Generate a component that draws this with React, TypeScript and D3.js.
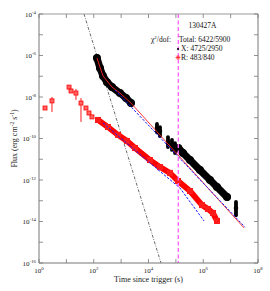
import React from "react";
import * as d3 from "d3";

// ---------- data ----------
// Early optical points (R band) with error bars
const optEarlyT = [1.66, 2.98, 12.5, 14.8, 22.4, 34.2, 52, 67, 86];
const optEarlyF = [2.95e-9, 6.5e-9, 3.0e-8, 1.95e-8, 1.55e-8, 5.1e-9, 2.95e-9, 1.7e-9, 1.1e-9];
const optEarlyLo = [2.95e-9, 1.9e-9, 3.0e-8, 1.95e-8, 7.2e-9, 6.3e-10, 2.95e-9, 1.7e-9, 1.1e-9];
const optEarlyHi = [2.95e-9, 1.0e-8, 3.0e-8, 1.95e-8, 2.45e-8, 8.9e-9, 2.95e-9, 1.7e-9, 1.1e-9];

// Dense optical light curve (band)
const optT = [143, 331, 769, 1640, 3210, 1.13e4, 2.63e4, 6.1e4, 1.2e5, 3.28e5, 9.0e5, 1.49e6, 2.27e6, 3.18e6];
const optF = [7.8e-10, 3.58e-10, 1.49e-10, 7.6e-11, 3.5e-11, 9.2e-12, 4.2e-12, 2.19e-12, 8.95e-13, 2.95e-13, 6.2e-14, 4.0e-14, 2.57e-14, 1.06e-14];

// Dense X-ray light curve, two continuous segments
const xr1T = [131, 169, 218, 305, 464, 910, 1510, 2290];
const xr1F = [7.6e-7, 2.5e-7, 1.03e-7, 5.2e-8, 3.0e-8, 1.55e-8, 8.9e-9, 5.1e-9];
const xr2T = [1.23e5, 1.82e5, 3.28e5, 7.6e5, 1.77e6, 3.18e6, 7.4e6];
const xr2F = [3.5e-11, 2.0e-11, 9.2e-12, 3.0e-12, 1.0e-12, 4.6e-13, 1.5e-13];

// Isolated X-ray points with error bars
const xrPtT = [2.04e4, 2.63e4, 5.15e4, 7.2e4, 9.3e4, 1.57e7];
const xrPtF = [3.2e-10, 2.3e-10, 6.7e-11, 4.9e-11, 3.5e-11, 4.5e-14];
const xrPtLo = [2.0e-10, 1.3e-10, 3.9e-11, 2.8e-11, 2.0e-11, 2.0e-14];
const xrPtHi = [5.0e-10, 3.5e-10, 1.17e-10, 8.5e-11, 6.0e-11, 8.7e-14];

// Models
const xrModelT = [131, 218, 464, 910, 2290, 3.1e7];
const xrModelF = [7.6e-7, 1.03e-7, 3.0e-8, 1.55e-8, 5.1e-9, 4.9e-15];
const xrPLT = [597, 3.35e7];
const xrPLF = [2.2e-8, 5.3e-15];
const optPLT = [218, 1.135e4, 1.41e5, 1.07e6];
const optPLF = [5.6e-10, 6.6e-12, 4.1e-13, 1.06e-14];
const steepT = [44, 2.86e4];
const steepF = [1e-4, 1e-16];
const breakTime = 1.23e5;

const xTickExp = [0, 1, 2, 3, 4, 5, 6, 7, 8];
const xLabelExp = [0, 2, 4, 6, 8];
const yTickExp = [-4, -5, -6, -7, -8, -9, -10, -11, -12, -13, -14, -15, -16];
const yLabelExp = [-4, -6, -8, -10, -12, -14, -16];

const legendTitle = "130427A";
const legendChi = "Total: 6422/5900";
const legendX = "X: 4725/2950";
const legendR = "R: 483/840";

// ---------- chart ----------
const W = 270;
const H = 291;
const L = 39, R = 258, T = 14, B = 263;
const FONT = "'Liberation Serif', 'DejaVu Serif', serif";

export default function App() {
  const x = d3.scaleLog().domain([1, 1e8]).range([L, R]);
  const y = d3.scaleLog().domain([1e-16, 1e-4]).range([B, T]);
  const line = d3
    .line<[number, number]>()
    .x((d) => x(d[0]))
    .y((d) => y(d[1]));
  const zip = (a: number[], b: number[]) => a.map((v, i) => [v, b[i]] as [number, number]);

  return (
    <svg
      width={W}
      height={H}
      style={{ position: "absolute", left: 0, top: 0, background: "#fff" }}
      fontFamily={FONT}
    >
      <defs>
        <clipPath id="plot">
          <rect x={L} y={T} width={R - L} height={B - T} />
        </clipPath>
      </defs>

      <g clipPath="url(#plot)">
        {/* steep dash-dot line */}
        <path
          d={line(zip(steepT, steepF)) || ""}
          fill="none"
          stroke="#444"
          strokeWidth={0.8}
          strokeDasharray="3,1.5,0.8,1.5"
        />

        {/* optical band */}
        <path
          d={line(zip(optT, optF)) || ""}
          fill="none"
          stroke="#ff0000"
          strokeWidth={5.8}
          strokeLinecap="round"
          strokeLinejoin="round"
        />
        {optT.map((t, i) => (
          <rect key={"ob" + i} x={x(t) - 3} y={y(optF[i]) - 3} width={6} height={6} fill="#ff1a1a" />
        ))}

        {/* early optical points */}
        {optEarlyT.map((t, i) => (
          <g key={"oe" + i}>
            <line x1={x(t)} x2={x(t)} y1={y(optEarlyLo[i])} y2={y(optEarlyHi[i])} stroke="#ff0000" strokeWidth={0.9} />
            <rect x={x(t) - 2} y={y(optEarlyF[i]) - 2} width={4} height={4} fill="#ff6666" stroke="#ff0000" strokeWidth={0.8} />
          </g>
        ))}

        {/* X-ray bands */}
        {[zip(xr1T, xr1F), zip(xr2T, xr2F)].map((seg, k) => (
          <path
            key={"xs" + k}
            d={line(seg) || ""}
            fill="none"
            stroke="#000"
            strokeWidth={7.2}
            strokeLinecap="round"
            strokeLinejoin="round"
          />
        ))}
        {xr1T.concat(xr2T).map((t, i) => (
          <circle key={"xc" + i} cx={x(t)} cy={y(xr1F.concat(xr2F)[i])} r={4} fill="#000" />
        ))}
        {xrPtT.map((t, i) => (
          <g key={"xp" + i}>
            <line x1={x(t)} x2={x(t)} y1={y(xrPtLo[i])} y2={y(xrPtHi[i])} stroke="#000" strokeWidth={3.8} strokeLinecap="round" />
            <circle cx={x(t)} cy={y(xrPtF[i])} r={2.3} fill="#000" />
          </g>
        ))}

        {/* models */}
        <path d={line(zip(xrModelT, xrModelF)) || ""} fill="none" stroke="#ff2020" strokeWidth={0.9} />
        <path d={line(zip(xrPLT, xrPLF)) || ""} fill="none" stroke="#1a1aff" strokeWidth={1} strokeDasharray="2.5,1.5" />
        <path d={line(zip(optPLT, optPLF)) || ""} fill="none" stroke="#1a1aff" strokeWidth={1} strokeDasharray="2.5,1.5" />

        {/* break time */}
        <line x1={x(breakTime)} x2={x(breakTime)} y1={T} y2={B} stroke="#ff66ff" strokeWidth={1.4} strokeDasharray="4,2.5" />
      </g>

      {/* frame */}
      <line x1={L} x2={R} y1={T} y2={T} stroke="#999" strokeWidth={1} />
      <line x1={R} x2={R} y1={T} y2={B} stroke="#bbb" strokeWidth={2} />
      <line x1={L} x2={L} y1={T} y2={B} stroke="#777" strokeWidth={1} />
      <line x1={L} x2={R} y1={B} y2={B} stroke="#777" strokeWidth={1} />

      {/* ticks */}
      {xTickExp.map((e) => {
        const px = x(Math.pow(10, e));
        return (
          <g key={"xt" + e}>
            <line x1={px} x2={px} y1={B} y2={B - 4} stroke="#777" strokeWidth={0.8} />
            <line x1={px} x2={px} y1={T} y2={T + 4} stroke="#777" strokeWidth={0.8} />
          </g>
        );
      })}
      {yTickExp.map((e) => {
        const py = y(Math.pow(10, e));
        return (
          <g key={"yt" + e}>
            <line x1={L} x2={L + 4} y1={py} y2={py} stroke="#777" strokeWidth={0.8} />
            <line x1={R} x2={R - 4} y1={py} y2={py} stroke="#777" strokeWidth={0.8} />
          </g>
        );
      })}

      {/* tick labels */}
      {xLabelExp.map((e) => (
        <text key={"xl" + e} x={x(Math.pow(10, e))} y={273} textAnchor="middle" fontSize={7} fill="#222">
          10<tspan fontSize={4.8} dy={-3}>{e}</tspan>
        </text>
      ))}
      {yLabelExp.map((e) => (
        <text key={"yl" + e} x={36} y={y(Math.pow(10, e)) + 2.5} textAnchor="end" fontSize={7} fill="#222">
          10<tspan fontSize={4.8} dy={-3}>{e}</tspan>
        </text>
      ))}

      {/* axis titles */}
      <text x={(L + R) / 2} y={281.5} textAnchor="middle" fontSize={8} fill="#222">
        Time since trigger (s)
      </text>
      <text transform={`translate(17,${(T + B) / 2}) rotate(-90)`} textAnchor="middle" fontSize={8} fill="#222">
        Flux (erg cm<tspan fontSize={5.5} dy={-3}>-2</tspan>
        <tspan dy={3}> s</tspan>
        <tspan fontSize={5.5} dy={-3}>-1</tspan>
        <tspan dy={3}>)</tspan>
      </text>

      {/* legend */}
      <text x={202.5} y={27.5} textAnchor="middle" fontSize={7.5} fill="#111">{legendTitle}</text>
      <text x={151} y={41.5} fontSize={7.5} fill="#111">
        χ<tspan fontSize={5} dy={-3}>2</tspan>
        <tspan dy={3}>/dof:</tspan>
      </text>
      <text x={179} y={41.5} fontSize={7.5} fill="#111">{legendChi}</text>
      <circle cx={178} cy={49} r={1.1} fill="#000" />
      <text x={181} y={51} fontSize={7.5} fill="#111">{legendX}</text>
      <g stroke="#ff2020" strokeWidth={0.8}>
        <line x1={175.5} x2={180.5} y1={57.5} y2={57.5} />
        <line x1={178} x2={178} y1={55} y2={60} />
        <line x1={176.2} x2={179.8} y1={55.7} y2={59.3} />
        <line x1={176.2} x2={179.8} y1={59.3} y2={55.7} />
      </g>
      <text x={181} y={60} fontSize={7.5} fill="#111">{legendR}</text>
    </svg>
  );
}
